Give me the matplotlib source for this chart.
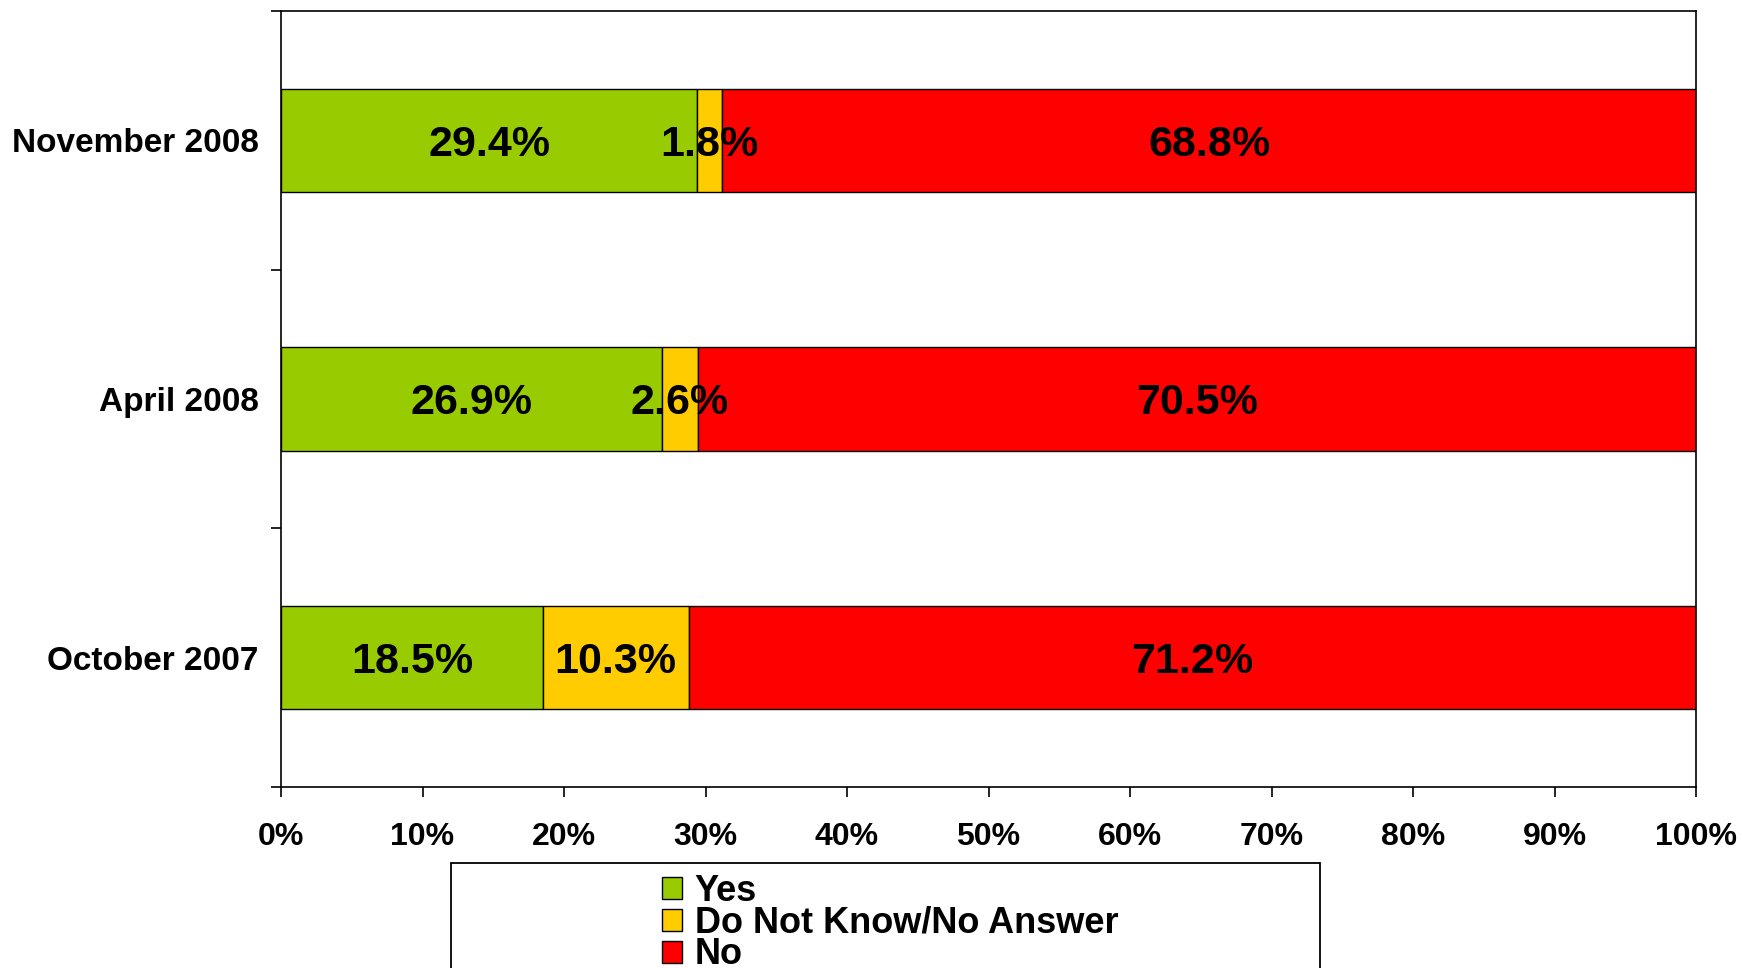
import matplotlib
matplotlib.use("Agg")
import matplotlib.pyplot as plt
from matplotlib.patches import Rectangle
import numpy as np

categories = ["October 2007", "April 2008", "November 2008"]
series_names = ["Yes", "Do Not Know/No Answer", "No"]
yes_vals = [18.5, 26.9, 29.4]
dnk_vals = [10.3, 2.6, 1.8]
no_vals = [71.2, 70.5, 68.8]
colors = ["#99CC00", "#FFCC00", "#FF0000"]
xtick_vals = [0, 10, 20, 30, 40, 50, 60, 70, 80, 90, 100]

plt.rcParams['font.family'] = ['Liberation Sans', 'DejaVu Sans']
plt.rcParams['font.weight'] = 'bold'

W, H = 1742, 968
fig = plt.figure(figsize=(W / 100, H / 100), dpi=100)
ax = fig.add_axes([281 / W, 1 - 787 / H, (1696 - 281) / W, (787 - 11) / H])

y = np.arange(len(categories))
left = np.zeros(len(categories))
containers = []
for name, vals, c in zip(series_names, [yes_vals, dnk_vals, no_vals], colors):
    bc = ax.barh(y, vals, left=left, height=0.4, color=c, edgecolor="black",
                 linewidth=1.0, label=name)
    containers.append(bc)
    for yi, l, v in zip(y, left, vals):
        ax.annotate(f"{v:.1f}%", xy=(l + v / 2, yi), xytext=(0, -3),
                    textcoords="offset points", ha="center", va="center",
                    fontsize=31, fontweight="bold", color="black")
    left = left + np.array(vals)

ax.set_xlim(0, 100)
ax.set_ylim(-0.5, 2.5)
ax.set_xticks(xtick_vals)
ax.set_xticklabels([f"{v}%" for v in xtick_vals], fontsize=23, fontweight="bold")
ax.tick_params(axis="x", direction="out", length=7, width=1.2, pad=18)

ax.set_yticks([-0.5, 0.5, 1.5, 2.5])
ax.set_yticklabels([])
ax.tick_params(axis="y", which="major", direction="out", length=7, width=1.2)
ax.set_yticks(y, minor=True)
ax.set_yticklabels(categories, minor=True, fontsize=24, fontweight="bold")
ax.tick_params(axis="y", which="minor", length=0, pad=16)

for s in ax.spines.values():
    s.set_linewidth(1.2)

# Legend frame box (extends past bottom edge)
box = Rectangle((451 / W, -0.05), (1320 - 451) / W, (1 - 863 / H) + 0.05,
                transform=fig.transFigure, fill=False, edgecolor="black",
                linewidth=1.3, clip_on=False)
fig.patches.append(box)

fig.legend(handles=containers, labels=series_names, loc="upper left",
           bbox_to_anchor=(662 / W, 1 - 874 / H), frameon=False,
           prop={"weight": "bold", "size": 26},
           borderpad=0, borderaxespad=0, handlelength=0.55, handleheight=0.55,
           handletextpad=0.35, labelspacing=-0.09)

fig.savefig("out.png", dpi=100)
